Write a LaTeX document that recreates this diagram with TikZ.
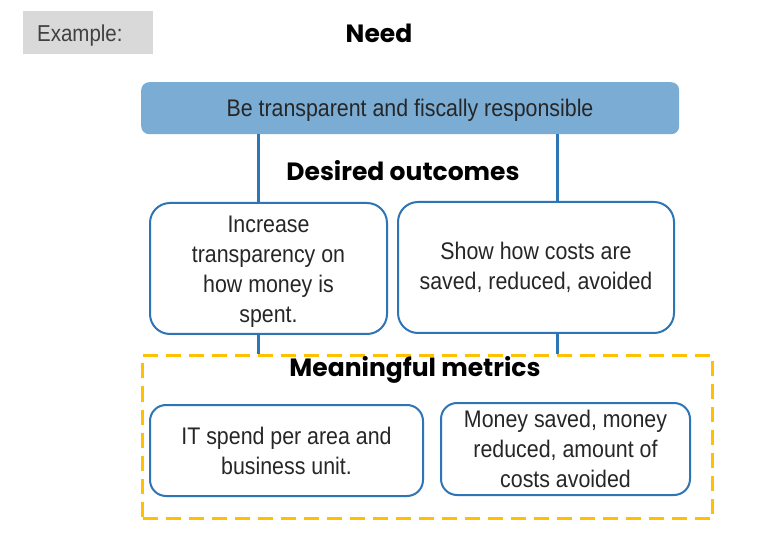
\documentclass[tikz,border=0pt]{standalone}
\usepackage{fontspec}
\setmainfont{Liberation Sans}[FakeStretch=0.89]
\newfontfamily\headfont{Poppins}
\definecolor{boxblue}{HTML}{2E75B6}
\definecolor{topfill}{HTML}{7BACD4}
\definecolor{exgray}{HTML}{D9D9D9}
\definecolor{extext}{HTML}{404040}
\definecolor{bodytext}{HTML}{262626}
\definecolor{gold}{HTML}{FFC000}
\tikzset{
  body/.style={font=\fontsize{24}{30}\selectfont, text=bodytext, align=center, inner sep=0pt},
  heading/.style={font=\headfont\bfseries\fontsize{25}{30}\selectfont, text=black, inner sep=0pt},
  outbox/.style={draw=boxblue, line width=2pt, rounded corners=20pt, anchor=north west, body},
  metbox/.style={draw=boxblue, line width=2pt, rounded corners=16pt, anchor=north west, body},
  link/.style={draw=boxblue, line width=3pt},
  frame/.style={draw=gold, line width=3pt, dash pattern=on 15pt off 8pt, anchor=north west, inner sep=0pt}
}
\begin{document}
\begin{tikzpicture}[x=1pt,y=-1pt]
\useasboundingbox[fill=white] (0,0) rectangle (760,534);
% example tag
\node[fill=exgray, minimum width=130, minimum height=43, anchor=north west, inner sep=0pt] (exbox) at (23,11) {};
\node[anchor=west, font=\fontsize{23}{28}\selectfont, text=extext, inner sep=0pt] (extxt) at (37,36) {Example:};
% need
\node[heading] (need) at (379,33) {Need};
\node[fill=topfill, rounded corners=8pt, minimum width=538, minimum height=52, anchor=north west, body] (top) at (141,82) {};
\node[body] (toptxt) at (410,110) {Be transparent and fiscally responsible};
% desired outcomes
\node[heading] (desired) at (403,171) {Desired outcomes};
\node[outbox, minimum width=237, minimum height=131] (L) at (149,202) {\raisebox{-3pt}[\height][\depth]{\begin{tabular}{@{}c@{}}Increase\\transparency on\\how money is\\spent.\end{tabular}}};
\node[outbox, minimum width=276, minimum height=131] (R) at (397,201) {Show how costs are\\saved, reduced, avoided};
% metrics
\node[frame, minimum width=570, minimum height=163] (met) at (141,354) {};
\node[heading] (metrics) at (415,370) {Meaningful metrics};
\node[metbox, minimum width=273, minimum height=91] (M1) at (149,404) {IT spend per area and\\business unit.};
\node[metbox, minimum width=249, minimum height=92] (M2) at (440,402) {Money saved, money\\reduced, amount of\\costs avoided};
% connectors
\coordinate (c1) at (258,0);
\coordinate (c2) at (557,0);
\draw[link] (top.south -| c1) -- (L.north -| c1);
\draw[link] (top.south -| c2) -- (R.north -| c2);
\draw[link] (L.south -| c1) -- (met.north -| c1);
\draw[link] (R.south -| c2) -- (met.north -| c2);
\end{tikzpicture}
\end{document}
